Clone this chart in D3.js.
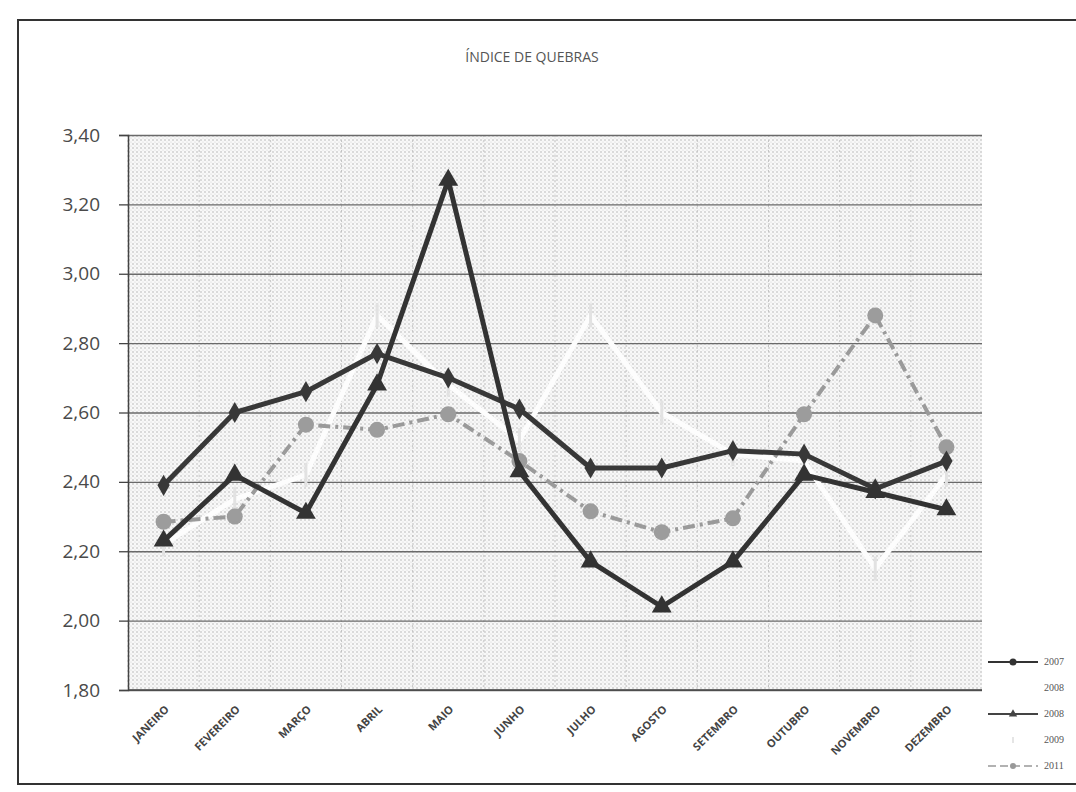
<!DOCTYPE html>
<html>
<head>
<meta charset="utf-8">
<script src="https://cdn.jsdelivr.net/npm/d3@7"></script>
<style>
    body { margin: 0; background: #fff; }
    svg { display: block; }
</style>
</head>
<body>
<script>
// chart values
const months = ['JANEIRO', 'FEVEREIRO', 'MARÇO', 'ABRIL', 'MAIO', 'JUNHO',
    'JULHO', 'AGOSTO', 'SETEMBRO', 'OUTUBRO', 'NOVEMBRO', 'DEZEMBRO'];
const yTicks = [1.8, 2.0, 2.2, 2.4, 2.6, 2.8, 3.0, 3.2, 3.4];
const v2007 = [2.39, 2.60, 2.66, 2.77, 2.70, 2.61, 2.44, 2.44, 2.49, 2.48, 2.38, 2.46];
const v2008 = [2.23, 2.42, 2.31, 2.68, 3.27, 2.43, 2.17, 2.04, 2.17, 2.42, 2.37, 2.32];
const v2009 = [2.22, 2.35, 2.42, 2.88, 2.68, 2.52, 2.88, 2.60, 2.48, 2.46, 2.15, 2.42];
const v2011 = [2.285, 2.30, 2.565, 2.55, 2.595, 2.46, 2.315, 2.255, 2.295, 2.595, 2.88, 2.50];
const legendLabels = ['2007', '2008', '2008', '2009', '2011'];

(() => {
    const W = 1076, H = 792;
    const margin = {top: 135, right: 94, bottom: 102, left: 128};
    const width = W - margin.left - margin.right,
        height = H - margin.top - margin.bottom;

    const svg = d3.select('body').append('svg')
        .attr('width', W)
        .attr('height', H);

    // halftone dots of the scanned plot area
    const pat = svg.append('defs').append('pattern')
        .attr('id', 'dots')
        .attr('width', 4)
        .attr('height', 4)
        .attr('patternUnits', 'userSpaceOnUse');
    pat.append('rect').attr('width', 4).attr('height', 4).attr('fill', '#f8f8f8');
    pat.append('circle').attr('cx', 1).attr('cy', 1).attr('r', 0.8).attr('fill', '#b4b4b4');
    pat.append('circle').attr('cx', 3).attr('cy', 3).attr('r', 0.6).attr('fill', '#d2d2d2');

    // outer frame
    svg.append('rect')
        .attr('x', 18).attr('y', 20)
        .attr('width', W).attr('height', 764)
        .attr('fill', 'none')
        .attr('stroke', '#333')
        .attr('stroke-width', 2);

    svg.append('text')
        .attr('x', 532).attr('y', 62)
        .attr('text-anchor', 'middle')
        .attr('font-family', 'Open Sans, sans-serif')
        .attr('font-size', 14)
        .attr('fill', '#555')
        .text('ÍNDICE DE QUEBRAS');

    const x = d3.scalePoint().domain(months).range([0, width]).padding(0.5);
    const y = d3.scaleLinear().domain([1.8, 3.4]).range([height, 0]);

    const g = svg.append('g')
        .attr('transform', `translate(${margin.left}, ${margin.top})`);

    g.append('rect')
        .attr('width', width)
        .attr('height', height)
        .attr('fill', 'url(#dots)');

    // faint vertical stripes
    g.append('g')
        .selectAll('line')
        .data(months)
        .join('line')
        .attr('x1', d => x(d) - x.step() / 2)
        .attr('x2', d => x(d) - x.step() / 2)
        .attr('y1', 0).attr('y2', height)
        .attr('stroke', '#c4c4c4')
        .attr('stroke-dasharray', '2,3')
        .attr('stroke-width', 1);

    // horizontal grid
    g.append('g')
        .attr('class', 'grid')
        .call(d3.axisLeft(y).tickValues(yTicks).tickSize(-width).tickFormat(''))
        .call(a => a.select('.domain').remove())
        .call(a => a.selectAll('line').attr('stroke', '#6a6a6a').attr('stroke-width', 1.3));

    const comma = d3.formatLocale({decimal: ',', thousands: '.', grouping: [3], currency: ['R$', '']}).format('.2f');

    g.append('g')
        .call(d3.axisLeft(y).tickValues(yTicks).tickSize(9).tickPadding(19).tickFormat(comma))
        .call(a => a.select('.domain').attr('stroke', '#444').attr('stroke-width', 1.5))
        .call(a => a.selectAll('line').attr('stroke', '#444').attr('stroke-width', 1.3))
        .call(a => a.selectAll('text')
            .attr('font-family', 'Open Sans, sans-serif')
            .attr('font-size', 19)
            .attr('fill', '#4a4a4a'));

    g.append('line')
        .attr('x1', 0).attr('x2', width)
        .attr('y1', height).attr('y2', height)
        .attr('stroke', '#444')
        .attr('stroke-width', 1.5);

    g.append('g')
        .selectAll('text')
        .data(months)
        .join('text')
        .attr('transform', d => `translate(${x(d) + 6}, ${height + 20}) rotate(-45)`)
        .attr('text-anchor', 'end')
        .attr('font-family', 'Open Sans, sans-serif')
        .attr('font-weight', 'bold')
        .attr('font-size', 11)
        .attr('fill', '#444')
        .text(d => d);

    const line = d3.line()
        .x((d, i) => x(months[i]))
        .y(d => y(d));

    const tri = d3.symbol().type(d3.symbolTriangle).size(170);

    // 2009: washed-out white line with pale tick markers
    g.append('path')
        .datum(v2009)
        .attr('d', line)
        .attr('fill', 'none')
        .attr('stroke', '#fdfdfd')
        .attr('stroke-width', 5);
    g.append('g')
        .selectAll('rect')
        .data(v2009)
        .join('rect')
        .attr('x', (d, i) => x(months[i]) - 1.5)
        .attr('y', d => y(d) - 12)
        .attr('width', 3)
        .attr('height', 24)
        .attr('fill', '#e2e2e2');

    // 2011: grey dash line
    g.append('path')
        .datum(v2011)
        .attr('d', line)
        .attr('fill', 'none')
        .attr('stroke', '#9a9a9a')
        .attr('stroke-width', 4)
        .attr('stroke-dasharray', '12,5,3,5');
    g.append('g')
        .selectAll('circle')
        .data(v2011)
        .join('circle')
        .attr('cx', (d, i) => x(months[i]))
        .attr('cy', d => y(d))
        .attr('r', 8)
        .attr('fill', '#9c9c9c');

    // 2007
    g.append('path')
        .datum(v2007)
        .attr('d', line)
        .attr('fill', 'none')
        .attr('stroke', '#383838')
        .attr('stroke-width', 5)
        .attr('stroke-linejoin', 'round');
    g.append('g')
        .selectAll('path')
        .data(v2007)
        .join('path')
        .attr('d', d3.symbol().type(d3.symbolDiamond).size(130))
        .attr('transform', (d, i) => `translate(${x(months[i])}, ${y(d)})`)
        .attr('fill', '#383838');

    // 2008
    g.append('path')
        .datum(v2008)
        .attr('d', line)
        .attr('fill', 'none')
        .attr('stroke', '#333')
        .attr('stroke-width', 5)
        .attr('stroke-linejoin', 'round');
    g.append('g')
        .selectAll('path')
        .data(v2008)
        .join('path')
        .attr('d', tri)
        .attr('transform', (d, i) => `translate(${x(months[i])}, ${y(d)})`)
        .attr('fill', '#333');

    // legend
    const legend = svg.append('g')
        .attr('transform', 'translate(988, 662)');
    const item = legend.selectAll('g')
        .data(legendLabels)
        .join('g')
        .attr('transform', (d, i) => `translate(0, ${i * 26})`);
    item.append('text')
        .attr('x', 56).attr('y', 3)
        .attr('font-family', 'Liberation Serif, serif')
        .attr('font-size', 10)
        .attr('fill', '#555')
        .text(d => d);

    const l0 = item.filter((d, i) => i === 0);
    l0.append('line').attr('x1', 0).attr('x2', 50).attr('stroke', '#333').attr('stroke-width', 2);
    l0.append('circle').attr('cx', 25).attr('r', 3.5).attr('fill', '#333');

    const l2 = item.filter((d, i) => i === 2);
    l2.append('line').attr('x1', 0).attr('x2', 50).attr('stroke', '#444').attr('stroke-width', 2);
    l2.append('path').attr('d', d3.symbol().type(d3.symbolTriangle).size(30))
        .attr('transform', 'translate(25, 0)').attr('fill', '#444');

    const l3 = item.filter((d, i) => i === 3);
    l3.append('line').attr('x1', 25).attr('x2', 25).attr('y1', -3).attr('y2', 3)
        .attr('stroke', '#ddd').attr('stroke-width', 1.5);

    const l4 = item.filter((d, i) => i === 4);
    l4.append('line').attr('x1', 0).attr('x2', 50).attr('stroke', '#999')
        .attr('stroke-width', 1.5).attr('stroke-dasharray', '8,4');
    l4.append('circle').attr('cx', 25).attr('r', 3).attr('fill', '#999');
})();
</script>
</body>
</html>
